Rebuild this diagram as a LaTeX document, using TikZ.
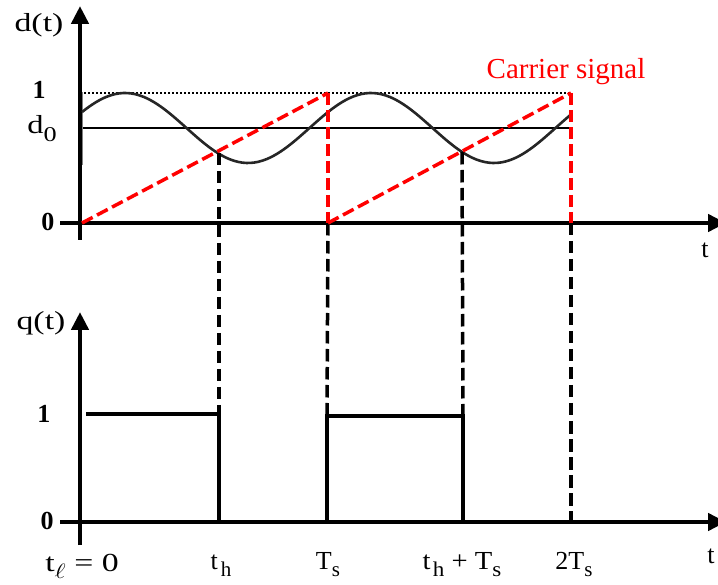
\documentclass[tikz,border=0pt]{standalone}
\usepackage{fontspec}
\setmainfont{Liberation Serif}
\usetikzlibrary{arrows.meta}
\newcommand{\lowsub}[1]{\raisebox{-0.3em}{\fontsize{21pt}{21pt}\selectfont #1}}
\newcommand{\wide}[2]{\scalebox{#1}[1]{#2}}
\begin{document}
\begin{tikzpicture}[x=1pt,y=-1pt,
 axis/.style={line width=4.5pt,-{Triangle[length=18pt,width=17pt]}},
 lbl/.style={font=\fontsize{26pt}{26pt}\selectfont, inner sep=0pt},
 bl/.style={font=\fontsize{26pt}{26pt}\selectfont\bfseries, inner sep=0pt},
 blackdash/.style={line width=3.5pt, dash pattern=on 12.5pt off 5.5pt},
 reddash/.style={line width=3.5pt, red, dash pattern=on 12pt off 5pt},
 wave/.style={line width=2.6pt, black!85},
 pulse/.style={line width=4pt},
 dotline/.style={line width=2pt, dash pattern=on 2pt off 2pt},
]
\useasboundingbox (0,0) rectangle (718,585);
% coordinates
\coordinate (tYb) at (80,240);
\coordinate (tYt) at (80,6);
\coordinate (tXl) at (60,223);
\coordinate (tXr) at (726,223);
\coordinate (tO) at (82,223);
\coordinate (bYb) at (80,545);
\coordinate (bYt) at (80,312);
\coordinate (bXl) at (60,522);
\coordinate (bXr) at (726,522);
\coordinate (dotL) at (84,93);
\coordinate (dotR) at (571,93);
\coordinate (dzL) at (83,128);
\coordinate (dzR) at (573,128);
\coordinate (p1) at (328,93);
\coordinate (ts) at (328,223);
\coordinate (p2) at (571,93);
\coordinate (t2s) at (571,223);
\coordinate (i1) at (219,153);
\coordinate (i2) at (462,152);
\coordinate (q1a) at (86,414);
\coordinate (q1b) at (219,414);
\coordinate (q1c) at (219,522);
\coordinate (q2a) at (327,522);
\coordinate (q2b) at (327,416);
\coordinate (q2c) at (463,416);
\coordinate (q2d) at (463,522);
\coordinate (b2s) at (571,522);
\coordinate (gA) at (82.5,92);
\coordinate (gB) at (82.5,165);
% axes
\draw[axis] (tYb) -- (tYt);
\draw[axis] (tXl) -- (tXr);
\draw[axis] (bYb) -- (bYt);
\draw[axis] (bXl) -- (bXr);
\draw[line width=1.5pt, gray] (gA) -- (gB);
% reference lines
\draw[dotline] (dotL) -- (dotR);
\draw[line width=2.6pt] (dzL) -- (dzR);
% modulating wave
\draw[wave] plot[domain=82:571, samples=120, smooth] (\x, {128 - 35*sin(1.46341*(\x-63.5))});
% projection lines
\draw[blackdash] (i1) -- (q1b);
\draw[blackdash] (ts) -- (q2b);
\draw[blackdash] (i2) -- (q2c);
\draw[blackdash] (t2s) -- (b2s);
% carrier
\draw[reddash] (tO) -- (p1);
\draw[reddash] (p1) -- (ts);
\draw[reddash] (ts) -- (p2);
\draw[reddash] (p2) -- (t2s);
% pulses
\draw[pulse] (q1a) -- (q1b) -- (q1c);
\draw[pulse] (q2a) -- (q2b) -- (q2c) -- (q2d);
% labels
\node[lbl] (ldt) at (39,25) {\wide{1.3}{d(t)}};
\node[bl] (l1t) at (39,90) {1};
\node[lbl, anchor=base] (ld0) at (42,134) {\wide{1.25}{d\lowsub{0}}};
\node[bl] (l0t) at (48,222) {0};
\node[lbl, anchor=base] (ltt) at (705,258) {t};
\node[lbl, text=red, font=\fontsize{29pt}{29pt}\selectfont] (lcar) at (566,72) {Carrier signal};
\node[lbl] (lqt) at (41,323) {\wide{1.3}{q(t)}};
\node[bl] (l1b) at (44,414) {1};
\node[bl] (l0b) at (47,521) {0};
\node[lbl, anchor=base] (ltl) at (82,571) {\wide{1.3}{t\lowsub{$\ell$} = 0}};
\node[lbl, anchor=base] (lth) at (221,569) {t\hspace{3pt}\lowsub{h}};
\node[lbl, anchor=base] (lts) at (328,569) {T\lowsub{s}};
\node[lbl, anchor=base] (lths) at (462,569) {\wide{1.1}{t\hspace{2pt}\lowsub{h} + T\lowsub{s}}};
\node[lbl, anchor=base] (l2ts) at (574,569) {2T\lowsub{s}};
\node[lbl, anchor=base] (ltb) at (711,563) {t};
\end{tikzpicture}
\end{document}
